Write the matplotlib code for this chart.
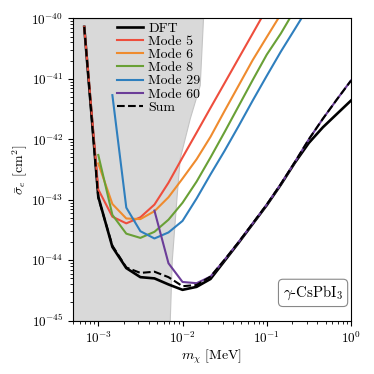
import numpy as np
import matplotlib
matplotlib.use('Agg')
import matplotlib.pyplot as plt

plt.rcParams['font.family'] = 'serif'
plt.rcParams['font.serif'] = ['cmr10', 'DejaVu Serif']
plt.rcParams['mathtext.fontset'] = 'cm'
plt.rcParams['axes.formatter.use_mathtext'] = True

nan = np.nan

# dark matter mass grid [MeV]
mass = [6.81e-4, 1.0e-3, 1.47e-3, 2.15e-3, 3.16e-3, 4.64e-3, 6.81e-3, 1.0e-2,
        1.47e-2, 2.15e-2, 3.16e-2, 4.64e-2, 6.81e-2, 1.0e-1, 1.47e-1, 2.15e-1,
        3.16e-1, 4.64e-1, 6.81e-1, 1.0]

# cross sections [cm^2]
dft = [7.24e-41, 1.12e-43, 1.66e-44, 7.41e-45, 5.25e-45, 5.01e-45, 3.98e-45, 3.24e-45,
       3.63e-45, 4.90e-45, 9.77e-45, 1.95e-44, 3.98e-44, 8.13e-44, 1.78e-43, 4.07e-43,
       8.71e-43, 1.58e-42, 2.63e-42, 4.37e-42]
mode5 = [7.24e-41, 1.48e-43, 5.25e-44, 4.07e-44, 5.13e-44, 8.32e-44, 1.91e-43, 5.01e-43,
         1.29e-42, 3.31e-42, 8.51e-42, 2.19e-41, 5.62e-41, 1.45e-40,
         nan, nan, nan, nan, nan, nan]
mode6 = [nan, 3.98e-43, 8.51e-44, 4.90e-44, 4.79e-44, 6.46e-44, 1.10e-43, 2.24e-43,
         4.68e-43, 1.10e-42, 2.95e-42, 7.76e-42, 2.04e-41, 4.90e-41, 1.17e-40,
         nan, nan, nan, nan, nan]
mode8 = [nan, 5.50e-43, 5.62e-44, 2.75e-44, 2.34e-44, 2.95e-44, 4.68e-44, 8.91e-44,
         2.0e-43, 5.01e-43, 1.32e-42, 3.55e-42, 9.55e-42, 2.51e-41, 5.62e-41, 1.38e-40,
         nan, nan, nan, nan]
mode29 = [nan, nan, 5.37e-42, 7.41e-44, 3.02e-44, 2.29e-44, 2.88e-44, 4.47e-44,
          1.05e-43, 2.63e-43, 6.46e-43, 1.66e-42, 4.37e-42, 1.12e-41, 2.82e-41, 6.61e-41,
          1.58e-40, nan, nan, nan]
mode60 = [nan, nan, nan, nan, nan, 6.61e-44, 8.91e-45, 4.37e-45,
          4.17e-45, 5.37e-45, 1.02e-44, 2.0e-44, 4.07e-44, 8.32e-44, 1.82e-43, 4.17e-43,
          1.0e-42, 2.19e-42, 4.57e-42, 9.4e-42]
total = [7.24e-41, 1.08e-43, 1.74e-44, 7.59e-45, 6.17e-45, 6.46e-45, 5.25e-45, 3.72e-45,
         3.89e-45, 5.37e-45, 1.02e-44, 2.0e-44, 4.07e-44, 8.32e-44, 1.82e-43, 4.17e-43,
         1.0e-42, 2.19e-42, 4.57e-42, 9.33e-42]

# edge of the shaded region
shade_sigma = [1e-45, 1e-44, 1.07e-43, 4.9e-43, 2.24e-42, 7.9e-42, 1e-40]
shade_mass = [7.05e-3, 7.45e-3, 8.47e-3, 9.27e-3, 1.22e-2, 1.6e-2, 1.75e-2]

xticks = [1e-3, 1e-2, 1e-1, 1.0]
yticks = [1e-45, 1e-44, 1e-43, 1e-42, 1e-41, 1e-40]

modes = [('Mode 5', mode5, '#ee4e3d'), ('Mode 6', mode6, '#ef8b2e'),
         ('Mode 8', mode8, '#69a036'), ('Mode 29', mode29, '#2f7fbe'),
         ('Mode 60', mode60, '#6b3d98')]

fig = plt.figure(figsize=(3.74, 3.74), dpi=100)
ax = fig.add_axes([0.195, 0.1425, 0.7435, 0.8085])

ax.fill_betweenx(shade_sigma, 1e-4, shade_mass, facecolor='#d9d9d9',
                 edgecolor='#c4c4c4', lw=0.8, zorder=0)

ax.plot(mass, dft, color='k', lw=1.9, label='DFT')
for name, vals, col in modes:
    ax.plot(mass, vals, color=col, lw=1.5, label=name)
ax.plot(mass, total, color='k', lw=1.5, ls='--', label='Sum')

ax.set_xscale('log')
ax.set_yscale('log')
ax.set_xticks(xticks)
ax.set_yticks(yticks)
ax.set_xlim(5e-4, 1)
ax.set_ylim(1e-45, 1e-40)
ax.tick_params(labelsize=9.5)
ax.set_xlabel(r'$m_\chi$ [MeV]', fontsize=10, labelpad=1)
ax.set_ylabel(r'$\bar{\sigma}_e$ [cm$^2$]', fontsize=10, labelpad=1)

ax.legend(loc='upper left', bbox_to_anchor=(0.13, 1.015), frameon=False,
          fontsize=10, labelspacing=0.03, handlelength=1.85, handletextpad=0.38,
          borderaxespad=0.2)

ax.text(0.972, 0.092, r'$\gamma$-CsPbI$_3$', transform=ax.transAxes,
        ha='right', va='center', fontsize=10.7,
        bbox=dict(boxstyle='round,pad=0.3', fc='white', ec='#888888', lw=0.8))

fig.savefig('out.png', dpi=100)
